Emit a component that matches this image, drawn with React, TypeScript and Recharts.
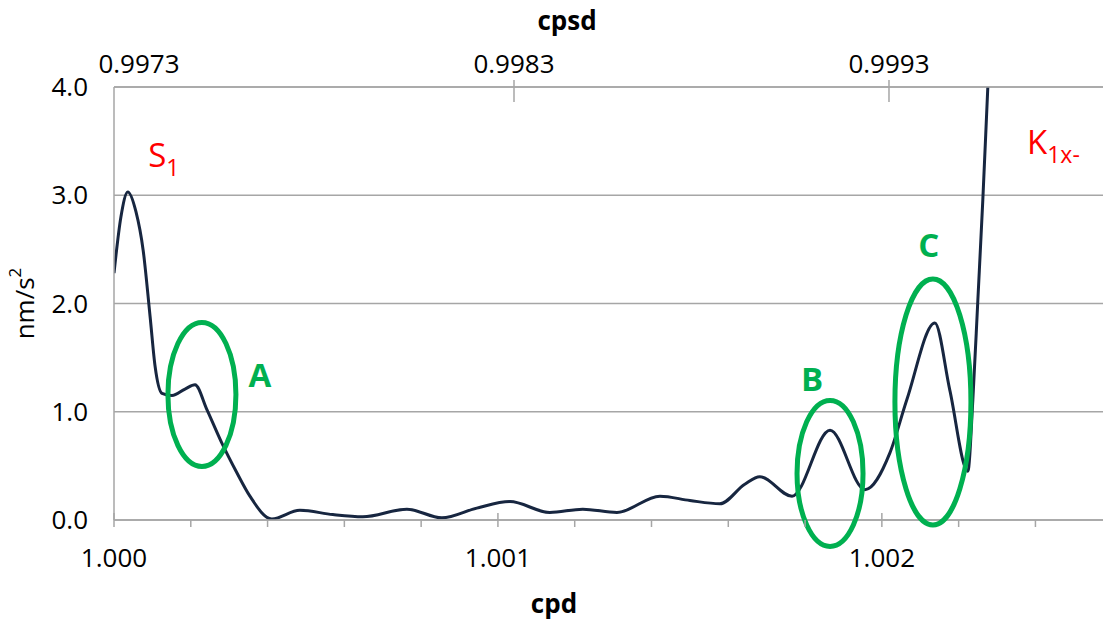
import { CartesianGrid, Label, Line, LineChart, ReferenceDot, XAxis, YAxis } from 'recharts'

// frequency in cycles per day and amplitude in nm/s^2
const cpd = [
  1.0, 1.000018, 1.000036, 1.000057, 1.000076, 1.000094, 1.000107, 1.000125, 1.000151, 1.000185,
  1.000211, 1.000242, 1.000281, 1.000318, 1.000354, 1.000411, 1.000484, 1.00057, 1.000648, 1.000763,
  1.000854, 1.000945, 1.001031, 1.001135, 1.001221, 1.00131, 1.001422, 1.0015, 1.001578, 1.001643,
  1.001682, 1.001766, 1.001865, 1.001956, 1.002021, 1.002065, 1.002138, 1.002177, 1.002224, 1.002237,
  1.00225, 1.002263, 1.002276, 1.002289,
]
const amplitude = [
  2.28, 2.8, 3.03, 2.85, 2.49, 1.88, 1.42, 1.17, 1.15, 1.21,
  1.25, 1.02, 0.71, 0.45, 0.22, 0.01, 0.09, 0.05, 0.03, 0.1,
  0.02, 0.11, 0.17, 0.07, 0.1, 0.07, 0.22, 0.18, 0.15, 0.33,
  0.4, 0.22, 0.83, 0.28, 0.62, 1.11, 1.82, 1.2, 0.45, 1.11,
  2.03, 2.96, 4.0, 5.0,
]

const cpdTicks = [1.0, 1.0002, 1.0004, 1.0006, 1.0008, 1.001, 1.0012, 1.0014, 1.0016, 1.0018, 1.002, 1.0022, 1.0024]
const cpdLabelValues = [1.0, 1.001, 1.002]
const cpdLabels = ['1.000', '1.001', '1.002']
const cpsdTicks = [0.9973, 0.9983, 0.9993]
const cpsdLabels = ['0.9973', '0.9983', '0.9993']
const ampTicks = [0, 1, 2, 3, 4]

// circled features
const circleNames = ['A', 'B', 'C']
const circleCpd = [1.000229, 1.001865, 1.002133]
const circleAmp = [1.16, 0.43, 1.09]
const circleLabelCpd = [1.00038, 1.001818, 1.002122]
const circleLabelAmp = [1.23, 1.19, 2.43]

// tidal constituent names
const waveNames = ['S', 'K']
const waveSubs = ['1', '1x-']
const waveCpd = [1.000089, 1.002378]
const waveAmp = [3.26, 3.38]

const data = cpd.map((c, i) => ({ cpd: c, amp: amplitude[i] }))

const GRID = '#a6a6a6'
const GREEN = '#00b050'
const FONT = '"Open Sans", sans-serif'
const ellipseSize: Record<string, [number, number]> = { A: [34, 72], B: [33, 73], C: [38, 123] }

function CpdTick(props: any) {
  const { x, y, payload } = props
  const idx = cpdLabelValues.findIndex((v) => Math.abs(v - payload.value) < 1e-9)
  const major = idx >= 0
  return (
    <g>
      <line x1={x} x2={x} y1={major ? y - 7 : y} y2={y + 7} stroke={GRID} strokeWidth={1.5} />
      {major ? (
        <text x={x} y={y + 47} textAnchor="middle" fontSize={26} fill="#000" fontFamily={FONT}>
          {cpdLabels[idx]}
        </text>
      ) : null}
    </g>
  )
}

function CpsdTick(props: any) {
  const { x, y, payload } = props
  const idx = cpsdTicks.findIndex((v) => Math.abs(v - payload.value) < 1e-9)
  if (idx < 0) return null
  return (
    <g>
      {/* first label sits at the corner, no tick mark drawn there */}
      {idx > 0 ? <line x1={x} x2={x} y1={y - 7} y2={y + 15} stroke={GRID} strokeWidth={1.5} /> : null}
      <text x={x} y={y - 14} textAnchor="middle" fontSize={26} fill="#000" fontFamily={FONT}>
        {cpsdLabels[idx]}
      </text>
    </g>
  )
}

export default function App() {
  return (
    <div style={{ position: 'absolute', left: 0, top: 0, fontFamily: FONT, background: '#fff' }}>
      <LineChart width={1103} height={624} data={data} margin={{ top: 0, right: 0, bottom: 0, left: 0 }}>
        <CartesianGrid xAxisId="cpd" vertical={false} stroke={GRID} strokeWidth={1.5} />
        <XAxis
          xAxisId="cpd"
          dataKey="cpd"
          type="number"
          domain={[1.0, 1.002576]}
          allowDataOverflow
          ticks={cpdTicks}
          interval={0}
          height={104}
          tickLine={false}
          tickSize={0}
          tickMargin={0}
          tick={<CpdTick />}
          axisLine={{ stroke: GRID, strokeWidth: 1.5 }}
        >
          <Label
            content={({ viewBox }: any) => (
              <text
                x={viewBox.x + 440}
                y={viewBox.y + 93}
                textAnchor="middle"
                fontSize={26}
                fontWeight="bold"
                fill="#000"
                fontFamily={FONT}
              >
                cpd
              </text>
            )}
          />
        </XAxis>
        <XAxis
          xAxisId="cpsd"
          dataKey="cpd"
          orientation="top"
          type="number"
          domain={[0.9972333, 0.9998707]}
          allowDataOverflow
          ticks={cpsdTicks}
          interval={0}
          height={87}
          tickLine={false}
          tickSize={0}
          tickMargin={0}
          tick={<CpsdTick />}
          axisLine={{ stroke: GRID, strokeWidth: 1.5 }}
        >
          <Label
            content={({ viewBox }: any) => (
              <text
                x={viewBox.x + 453}
                y={30}
                textAnchor="middle"
                fontSize={26}
                fontWeight="bold"
                fill="#000"
                fontFamily={FONT}
              >
                cpsd
              </text>
            )}
          />
        </XAxis>
        <YAxis
          type="number"
          domain={[0, 4]}
          allowDataOverflow
          ticks={ampTicks}
          interval={0}
          width={114}
          tickLine={false}
          tickSize={0}
          tickMargin={26}
          tickFormatter={(v: number) => v.toFixed(1)}
          tick={{ fontSize: 26, fill: '#000', fontFamily: FONT }}
          axisLine={{ stroke: GRID, strokeWidth: 1.5 }}
        >
          <Label
            content={({ viewBox }: any) => {
              const cx = 24
              const cy = viewBox.y + viewBox.height / 2
              return (
                <text
                  x={cx}
                  y={cy}
                  transform={`rotate(-90 ${cx} ${cy})`}
                  textAnchor="middle"
                  dominantBaseline="central"
                  fontSize={26}
                  fill="#000"
                  fontFamily={FONT}
                >
                  nm/s
                  <tspan fontSize={17} dy={-10}>
                    2
                  </tspan>
                </text>
              )
            }}
          />
        </YAxis>
        {/* invisible series so the secondary (cpsd) axis gets its own scale */}
        <Line
          xAxisId="cpsd"
          type="linear"
          dataKey="amp"
          stroke="none"
          dot={false}
          activeDot={false}
          legendType="none"
          isAnimationActive={false}
        />
        <Line
          xAxisId="cpd"
          type="monotone"
          dataKey="amp"
          stroke="#172640"
          strokeWidth={3}
          dot={false}
          activeDot={false}
          isAnimationActive={false}
        />
        {circleNames.map((name, i) => (
          <ReferenceDot
            key={`e-${name}`}
            xAxisId="cpd"
            x={circleCpd[i]}
            y={circleAmp[i]}
            r={0}
            isFront
            shape={(p: any) => (
              <ellipse
                cx={p.cx}
                cy={p.cy}
                rx={ellipseSize[name][0]}
                ry={ellipseSize[name][1]}
                fill="none"
                stroke={GREEN}
                strokeWidth={5}
              />
            )}
          />
        ))}
        {circleNames.map((name, i) => (
          <ReferenceDot
            key={`l-${name}`}
            xAxisId="cpd"
            x={circleLabelCpd[i]}
            y={circleLabelAmp[i]}
            r={0}
            isFront
            shape={(p: any) => (
              <text x={p.cx} y={p.cy} textAnchor="middle" fontSize={33} fontWeight="bold" fill={GREEN} fontFamily={FONT}>
                {name}
              </text>
            )}
          />
        ))}
        {waveNames.map((name, i) => (
          <ReferenceDot
            key={`w-${name}`}
            xAxisId="cpd"
            x={waveCpd[i]}
            y={waveAmp[i]}
            r={0}
            isFront
            shape={(p: any) => (
              <text x={p.cx} y={p.cy} fontSize={33} fill="#ff0000" fontFamily={FONT}>
                {name}
                <tspan fontSize={23} dy={9}>
                  {waveSubs[i]}
                </tspan>
              </text>
            )}
          />
        ))}
      </LineChart>
    </div>
  )
}
